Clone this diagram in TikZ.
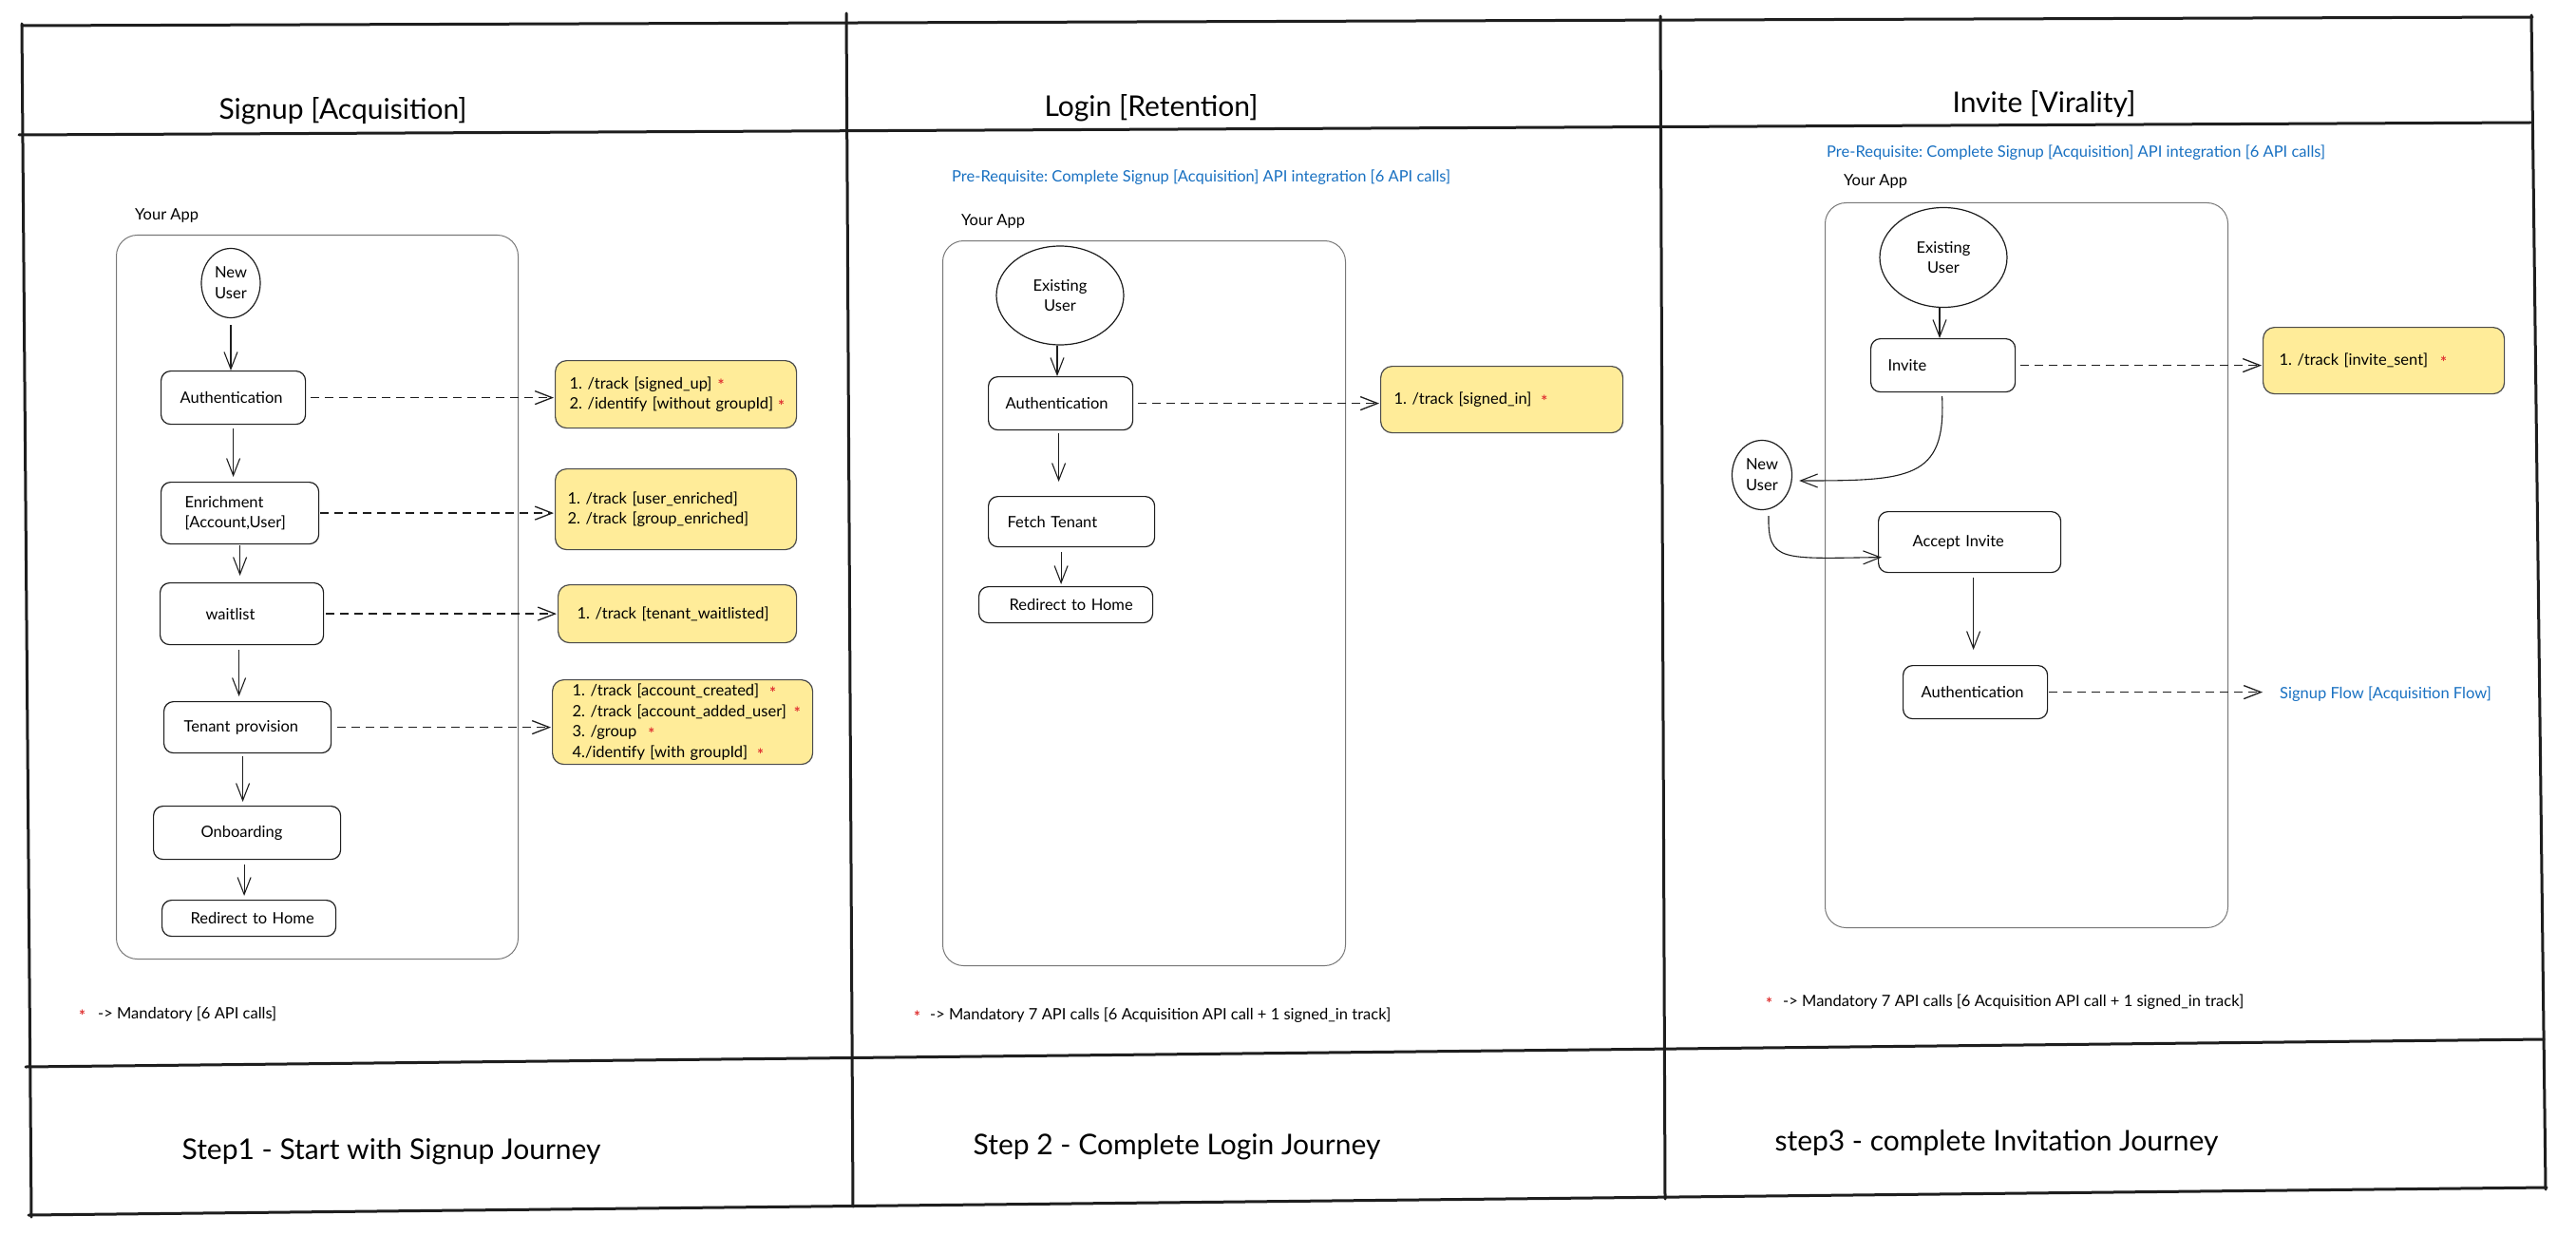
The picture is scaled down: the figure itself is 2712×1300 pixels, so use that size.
\documentclass[tikz,border=0pt]{standalone}
\usepackage{fontspec}
\setmainfont{Lato}
\usetikzlibrary{arrows.meta,shapes.geometric}
\definecolor{ink}{HTML}{1E1E1E}
\definecolor{notefill}{HTML}{FFEC99}
\definecolor{linkblue}{HTML}{1971C2}
\definecolor{starred}{HTML}{E03131}
\frenchspacing
\newcommand\bodyfont{\fontsize{16.5}{21.7}\selectfont}
\newcommand\titlefont{\fontsize{30}{36}\selectfont}
\newcommand\redstar{\raisebox{-0.35ex}{\color{starred}\bfseries *}}
\newcommand\st[1]{\hspace{#1pt}\redstar}
\begin{document}
\begin{tikzpicture}[x=1pt,y=-1pt,
  frame/.style={line width=3pt, draw=ink, line cap=round},
  app/.style={rectangle, draw=ink!60, line width=1pt, rounded corners=22pt, anchor=north west, inner sep=0pt},
  stepbox/.style={rectangle, draw=ink, line width=1.2pt, rounded corners=10pt, anchor=north west, inner xsep=5pt, inner ysep=0pt, align=left, font=\bodyfont},
  notebox/.style={stepbox, fill=notefill, draw=ink!80, rounded corners=12pt},
  actor/.style={ellipse, draw=ink, line width=1.2pt, inner sep=0pt, align=center, font=\bodyfont},
  lbl/.style={inner sep=0pt, font=\bodyfont, anchor=west},
  bluelbl/.style={lbl, text=linkblue},
  title/.style={inner sep=0pt, font=\titlefont},
  arr/.style={draw=ink, line width=1.1pt, -{Straight Barb[length=18pt,width=14pt]}},
  darr/.style={arr, line width=1.3pt, dash pattern=on 9pt off 6pt},
]
\useasboundingbox (0,0) rectangle (2712,1300);
\fill[white] (0,0) rectangle (2712,1300);

% ---------- frame ----------
\draw[frame] (23,27) -- (2666,18);
\draw[frame] (23,25) -- (33,1281);
\draw[frame] (30,1279) -- (2681,1250);
\draw[frame] (2665,16) -- (2680,1252);
\draw[frame] (20,142) -- (2664,129);
\draw[frame] (27,1123) -- (2678,1094);
\draw[frame] (891,14) -- (898,1270);
\draw[frame] (1748,17) -- (1753,1262);

% ---------- titles ----------
\node[title] (t1) at (361,117) {Signup [Acquisition]};
\node[title] (t2) at (1212,114) {Login [Retention]};
\node[title] (t3) at (2152,110) {Invite [Virality]};
\node[title] (f1) at (412,1212) {Step1 - Start with Signup Journey};
\node[title] (f2) at (1239,1207) {Step 2 - Complete Login Journey};
\node[title] (f3) at (2102,1203) {step3 - complete Invitation Journey};

% ---------- column 1 ----------
\node[lbl] (ya1) at (142,227) {Your App};
\node[app, minimum width=423pt, minimum height=762pt] (app1) at (122,247) {};
\node[actor, minimum width=62pt, minimum height=73pt] (nu1) at (243,298) {New\\User};
\node[stepbox, minimum width=152pt, minimum height=56pt, text width=142pt] (auth1) at (169,390) {\hspace*{15pt}Authentication};
\node[stepbox, minimum width=166pt, minimum height=65pt, text width=156pt] (enrich) at (169,507) {\hspace*{20pt}Enrichment\\\hspace*{20pt}[Account,User]};
\node[stepbox, minimum width=172pt, minimum height=65pt, text width=162pt] (wait) at (168,613) {\hspace*{43pt}waitlist};
\node[stepbox, minimum width=176pt, minimum height=54pt, text width=166pt] (tenant) at (172,738) {\hspace*{16pt}Tenant provision};
\node[stepbox, minimum width=197pt, minimum height=56pt, text width=187pt] (onb) at (161,848) {\hspace*{45pt}Onboarding};
\node[stepbox, minimum width=183pt, minimum height=38pt, text width=173pt] (redir1) at (170,947) {\hspace*{25pt}Redirect to Home};

\node[notebox, minimum width=254pt, minimum height=71pt, text width=244pt] (y1) at (584,379)
  {\hspace*{10pt}1. /track [signed\_up]\st{6}\\ \hspace*{10pt}2. /identify [without groupId]\st{5}};
\node[notebox, minimum width=254pt, minimum height=85pt, text width=244pt] (y2) at (584,493)
  {\hspace*{8pt}1. /track [user\_enriched]\\ \hspace*{8pt}2. /track [group\_enriched]};
\node[notebox, minimum width=251pt, minimum height=61pt, text width=241pt] (y3) at (587,615)
  {\hspace*{15pt}1. /track [tenant\_waitlisted]};
\node[notebox, minimum width=274pt, minimum height=89pt, text width=264pt] (y4) at (581,715)
  {\hspace*{16pt}1. /track [account\_created]\st{11}\\ \hspace*{16pt}2. /track [account\_added\_user]\st{8}\\ \hspace*{16pt}3. /group\st{12}\\ \hspace*{16pt}4./identify [with groupId]\st{10}};

\draw[arr, shorten <=7pt] (nu1.south) -- (nu1.south |- auth1.north);
\draw[arr, shorten <=4pt, shorten >=5pt] (auth1.south) -- (auth1.south |- enrich.north);
\draw[arr, shorten <=1pt, shorten >=7pt] (enrich.south) -- (enrich.south |- wait.north);
\draw[arr, shorten <=5pt, shorten >=5pt] ([xshift=-3pt]wait.south) -- ([xshift=-3pt]wait.south |- tenant.north);
\draw[arr, shorten <=3pt, shorten >=4pt] ([xshift=-5pt]tenant.south) -- ([xshift=-5pt]tenant.south |- onb.north);
\draw[arr, shorten <=5pt, shorten >=4pt] ([xshift=-3pt]onb.south) -- ([xshift=-3pt]onb.south |- redir1.north);

\draw[darr, shorten <=5pt, shorten >=1pt] (auth1.east) -- (auth1.east -| y1.west);
\draw[darr, shorten <=1pt, shorten >=1pt] (enrich.east) -- (enrich.east -| y2.west);
\draw[darr, shorten <=2pt, shorten >=1pt] (wait.east) -- (wait.east -| y3.west);
\draw[darr, shorten <=6pt, shorten >=1pt] (tenant.east) -- (tenant.east -| y4.west);

\node[lbl] (leg1) at (83,1068) {\redstar\hspace{13pt}-> Mandatory [6 API calls]};

% ---------- column 2 ----------
\node[bluelbl] (pr2) at (1002,187) {Pre-Requisite: Complete Signup [Acquisition] API integration [6 API calls]};
\node[lbl] (ya2) at (1012,233) {Your App};
\node[app, minimum width=424pt, minimum height=763pt] (app2) at (992,253) {};
\node[actor, minimum width=134pt, minimum height=104pt] (eu2) at (1116,311) {Existing\\User};
\node[stepbox, minimum width=152pt, minimum height=56pt, text width=142pt] (auth2) at (1040,396) {\hspace*{13pt}Authentication};
\node[stepbox, minimum width=175pt, minimum height=53pt, text width=165pt] (fetch) at (1040,522) {\hspace*{15pt}Fetch Tenant};
\node[stepbox, minimum width=183pt, minimum height=38pt, text width=173pt] (redir2) at (1030,617) {\hspace*{27pt}Redirect to Home};
\node[notebox, minimum width=255pt, minimum height=70pt, text width=245pt] (y5) at (1453,385)
  {\hspace*{9pt}1. /track [signed\_in]\st{10}};

\draw[arr] ([xshift=-3pt]eu2.south) -- ([xshift=-3pt]eu2.south |- auth2.north);
\draw[arr, shorten <=3pt, shorten >=15pt] ([xshift=-2pt]auth2.south) -- ([xshift=-2pt]auth2.south |- fetch.north);
\draw[arr, shorten <=5pt, shorten >=2pt] ([xshift=-11pt]fetch.south) -- ([xshift=-11pt]fetch.south |- redir2.north);
\draw[darr, shorten <=5pt, shorten >=1pt] (auth2.east) -- (auth2.east -| y5.west);

\node[lbl] (leg2) at (962,1069) {\redstar\hspace{10pt}-> Mandatory 7 API calls [6 Acquisition API call + 1 signed\_in track]};

% ---------- column 3 ----------
\node[bluelbl] (pr3) at (1923,161) {Pre-Requisite: Complete Signup [Acquisition] API integration [6 API calls]};
\node[lbl] (ya3) at (1941,191) {Your App};
\node[app, minimum width=424pt, minimum height=763pt] (app3) at (1921,213) {};
\node[actor, minimum width=134pt, minimum height=105pt] (eu3) at (2046,271) {Existing\\User};
\node[stepbox, minimum width=152pt, minimum height=56pt, text width=142pt] (invite) at (1969,356) {\hspace*{13pt}Invite};
\node[notebox, minimum width=254pt, minimum height=70pt, text width=244pt] (y6) at (2382,344)
  {\hspace*{12pt}1. /track [invite\_sent]\st{13}};
\node[actor, minimum width=63pt, minimum height=73pt] (nu3) at (1855,500) {New\\User};
\node[stepbox, minimum width=192pt, minimum height=64pt, text width=182pt] (accept) at (1977,538) {\hspace*{31pt}Accept Invite};
\node[stepbox, minimum width=152pt, minimum height=56pt, text width=142pt] (auth3) at (2003,700) {\hspace*{14pt}Authentication};
\node[bluelbl] (sf) at (2400,731) {Signup Flow [Acquisition Flow]};

\draw[arr] ([xshift=-4pt]eu3.south) -- ([xshift=-4pt]eu3.south |- invite.north);
\draw[darr, shorten <=5pt, shorten >=1pt] (invite.east) -- (invite.east -| y6.west);
\draw[arr] ([shift={(-1,4)}]invite.south) .. controls (2049,505) and (2010,506) .. ([shift={(7,6)}]nu3.east);
\draw[arr] ([shift={(7,6)}]nu3.south) .. controls (1861,592) and (1876,588) .. ([shift={(4,16)}]accept.west);
\draw[arr, shorten <=5pt, shorten >=16pt] ([xshift=4pt]accept.south) -- ([xshift=4pt]accept.south |- auth3.north);
\draw[darr, shorten <=1pt, shorten >=18pt] (auth3.east) -- (auth3.east -| sf.west);

\node[lbl] (leg3) at (1859,1055) {\redstar\hspace{11pt}-> Mandatory 7 API calls [6 Acquisition API call + 1 signed\_in track]};
\end{tikzpicture}
\end{document}
